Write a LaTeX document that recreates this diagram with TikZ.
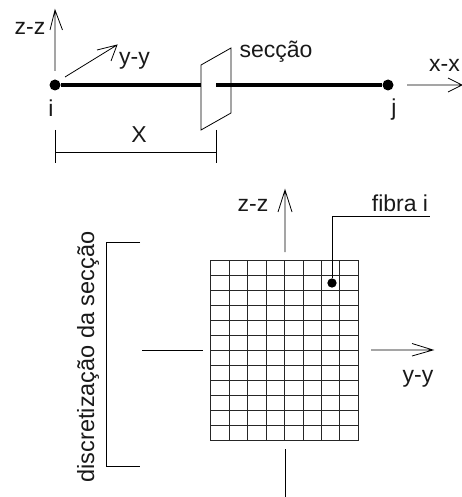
\documentclass[tikz,border=0pt]{standalone}
\usepackage{fontspec}
\setmainfont{Liberation Sans}
\tikzset{
  thin line/.style={draw=black,line width=0.8pt},
  grid line/.style={draw=black!85,line width=0.8pt},
  beam/.style={draw=black,line width=3.2pt},
  dot/.style={circle,fill=black,inner sep=0pt,minimum size=#1},
  lbl/.style={inner sep=0pt,font=\fontsize{23}{26}\selectfont,text=black!90}
}
\begin{document}
\begin{tikzpicture}[x=1pt,y=-1pt]
\useasboundingbox (0,0) rectangle (462,497);
% element
\node[dot=11pt] (i) at (55,85) {};
\node[dot=11pt] (j) at (388,85) {};
\coordinate (b1) at (201,85);
\coordinate (b2) at (216,85);
\draw[beam] (i) -- (b1);
\draw[beam] (b2) -- (j);
% axes at i
\coordinate (zt) at (55,10);
\coordinate (zb) at (55,71);
\draw[thin line] (zb) -- (zt) (50,30) -- (zt) -- (62.5,30);
\coordinate (yt) at (117,45);
\coordinate (yb) at (65,77);
\draw[thin line] (yb) -- (yt) (97,50) -- (yt) -- (111,61);
\coordinate (xl) at (407,85);
\coordinate (xr) at (462,85);
\draw[thin line] (xl) -- (xr) (448,78) -- (xr) -- (448,92);
% section
\coordinate (s1) at (201,65);
\coordinate (s2) at (231,48);
\coordinate (s3) at (231,113);
\coordinate (s4) at (201,130);
\draw[thin line] (s1) -- (s2) -- (s3) -- (s4) -- cycle;
% dimension
\coordinate (d1) at (55,130);
\coordinate (d2) at (55,163);
\coordinate (d3) at (216,130);
\coordinate (d4) at (216,163);
\coordinate (d5) at (55,152);
\coordinate (d6) at (216,152);
\draw[thin line] (d1) -- (d2) (d3) -- (d4) (d5) -- (d6);
% labels
\node[lbl] (tzz) at (30,28) {z-z};
\node[lbl] (tyy) at (134.5,61) {y-y};
\node[lbl] (tsec) at (276,52) {secção};
\node[lbl] (txx) at (444.5,65) {x-x};
\node[lbl] (ti) at (51,108) {i};
\node[lbl] (tj) at (394,110) {j};
\node[lbl] (tX) at (139,135) {X};
% grid
\foreach \c in {0,...,8} \draw[grid line] ({210.7+18.45*\c},260) -- ({210.7+18.45*\c},440.6);
\foreach \r in {0,...,12} \draw[grid line] (210.7,{260+15.05*\r}) -- (358.3,{260+15.05*\r});
\node[dot=9.3pt] (fib) at (332,283) {};
\coordinate (l1) at (332,216.5);
\coordinate (l2) at (430,216.5);
\draw[thin line] (fib) -- (l1) -- (l2);
\node[lbl] (tfib) at (400,203) {fibra i};
% section axes
\coordinate (zzt) at (285,190);
\coordinate (zzb) at (285,252);
\draw[thin line] (zzb) -- (zzt) (278,212) -- (zzt) -- (292,212);
\coordinate (zb1) at (285,449);
\coordinate (zb2) at (285,497);
\draw[thin line] (zb1) -- (zb2);
\coordinate (hl1) at (142,350);
\coordinate (hl2) at (203,350);
\draw[thin line] (hl1) -- (hl2);
\coordinate (hr1) at (371,350);
\coordinate (hr2) at (433,350);
\draw[thin line] (hr1) -- (hr2) (412,343.5) -- (hr2) -- (412,356);
\node[lbl] (tzz2) at (253,205) {z-z};
\node[lbl] (tyy2) at (418,379) {y-y};
% bracket
\coordinate (br1) at (140,242);
\coordinate (br2) at (106,242);
\coordinate (br3) at (106,466);
\coordinate (br4) at (140,466);
\draw[thin line] (br1) -- (br2) -- (br3) -- (br4);
\node[lbl,rotate=90,font=\fontsize{23.5}{26}\selectfont] (tdisc) at (88,357) {discretização da secção};
\end{tikzpicture}
\end{document}
